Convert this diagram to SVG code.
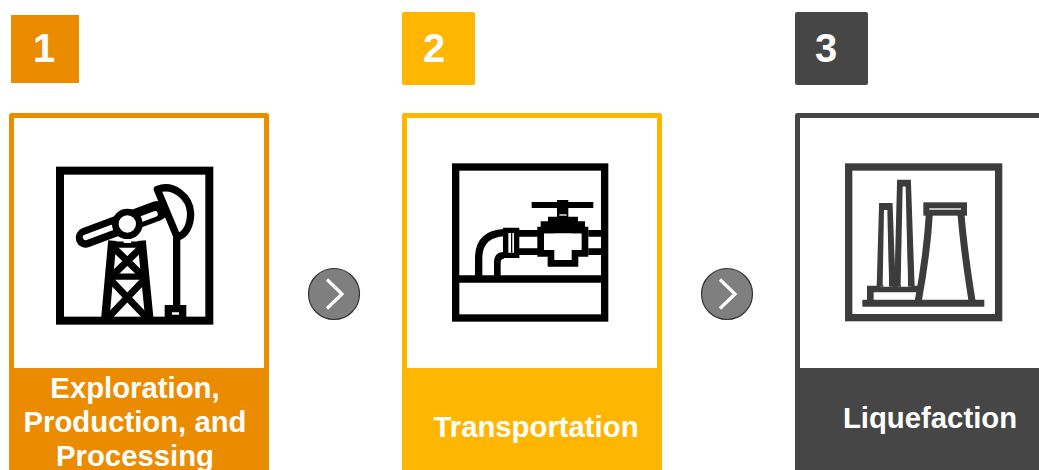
<svg xmlns="http://www.w3.org/2000/svg" width="1039" height="470" viewBox="0 0 1039 470">
<style>
text{font-family:"Liberation Sans",Arial,sans-serif;font-weight:700;fill:#fff;text-anchor:middle}
.lbl{font-size:29.300px}.num{font-size:40px}
.card{fill:#fff;stroke-width:5;stroke-linejoin:round}
.ic{fill:none;stroke-linecap:butt;stroke-linejoin:miter}
.next{fill:#7f7f7f;stroke:#333;stroke-width:1.2}
.chev{fill:none;stroke:#fff;stroke-width:3.2}
</style>
<rect width="1039" height="470" fill="#fff"/>
<g id="node-1">
<rect x="11" y="15" width="68" height="68" fill="#eb8c00"/>
<text class="num" x="44" y="62">1</text>
<rect class="card" x="11.500" y="115.500" width="255" height="360" stroke="#eb8c00"/>
<rect x="9" y="368" width="260" height="102" fill="#eb8c00"/>
<g class="ic" stroke="#000" transform="translate(40 150) scale(.3333)">
<rect x="60" y="62" width="448" height="450" stroke-width="24"/>
<path d="M137 263L352 183" stroke-width="60" stroke-linecap="round"/>
<path d="M137 262L215 233M305 207L345 192" stroke="#fff" stroke-width="17" stroke-linecap="round"/>
<circle cx="262" cy="222" r="36" fill="#fff" stroke-width="20"/>
<path d="M352 118C400 100 450 140 452 190C452 230 435 255 412 262Z" fill="#fff" stroke-width="22" stroke-linejoin="round"/>
<path d="M410 262V475" stroke-width="22"/>
<path d="M385 476H428V505H385Z" fill="#fff" stroke-width="22"/>
<path d="M217 272L196 505M305 272L328 505" stroke-width="25"/>
<path d="M205 284H318M205 380H320" stroke-width="19"/>
<path d="M225 297L302 372M299 297L222 372M208 386L322 505M316 386L202 505" stroke-width="21"/>
<path d="M251 268H273V279H251Z" fill="#fff" stroke="none"/>
</g>
</g>
<g id="node-2">
<rect x="402" y="12" width="73" height="73" rx="2" fill="#ffb600"/>
<text class="num" x="434" y="62">2</text>
<rect class="card" x="404.500" y="115.500" width="255" height="360" stroke="#ffb600"/>
<rect x="402" y="368" width="260" height="102" fill="#ffb600"/>
<g class="ic" stroke="#000" transform="translate(440 150) scale(.3333)">
<rect x="47" y="51" width="447" height="453" stroke-width="22"/>
<path d="M47 387H494" stroke-width="22"/>
<path d="M275 165H460" stroke-width="18"/>
<path d="M368 150V205" stroke-width="34"/>
<path d="M358 195H380" stroke="#fff" stroke-width="4"/>
<path d="M334 210H404V240H435V310H405V340H333V310H302V240H334Z" fill="#fff" stroke-width="20"/>
<path d="M302 232H435" stroke-width="36"/>
<path d="M237 250H302M237 305H302M445 250H494M445 305H494" stroke-width="20"/>
<path d="M197 241H230V316H197Z" stroke-width="16" fill="#fff"/>
<path d="M215 249V308" stroke="#000" stroke-width="4"/>
<path d="M116 378V325Q116 252 192 248" stroke-width="22"/>
<path d="M172 378V338Q172 316 192 316" stroke-width="20"/>
</g>
</g>
<g id="node-3">
<rect x="795" y="12" width="73" height="73" rx="2" fill="#464646"/>
<text class="num" x="826" y="62">3</text>
<rect class="card" x="797.500" y="115.500" width="260" height="360" stroke="#464646"/>
<rect x="795" y="368" width="260" height="102" fill="#464646"/>
<g class="ic" stroke="#3c3c3c" transform="translate(835 150) scale(.3333)">
<rect x="41" y="51" width="450" height="452" stroke-width="22"/>
<path d="M82 460H448" stroke-width="21"/>
<path d="M106 455V417H250" stroke-width="20"/>
<path d="M135 410L142 169H163L172 410" stroke-width="20" fill="#fff"/>
<path d="M147 180H157L162 405H143Z" fill="#fff" stroke="none"/>
<path d="M188 410L196 99H218L229 410" stroke-width="20" fill="#fff"/>
<path d="M203 110H212L219 405H197Z" fill="#fff" stroke="none"/>
<rect x="274" y="166" width="113" height="22" stroke-width="18" fill="#fff"/>
<path d="M283 192C278 280 265 370 250 452M378 192C385 280 398 370 411 452" stroke-width="21"/>
</g>
</g>
<g id="connectors">
<circle class="next" cx="334" cy="294" r="25.500"/>
<path class="chev" d="M327 279.500L342 294L327 308.500"/>
<circle class="next" cx="727" cy="294" r="25.500"/>
<path class="chev" d="M720 279.500L735 294L720 308.500"/>
</g>
<g id="labels">
<text class="lbl" x="135" y="398">Exploration,</text>
<text class="lbl" x="135" y="432">Production, and</text>
<text class="lbl" x="135" y="466">Processing</text>
<text class="lbl" x="536" y="437">Transportation</text>
<text class="lbl" x="930" y="428">Liquefaction</text>
</g>
</svg>
